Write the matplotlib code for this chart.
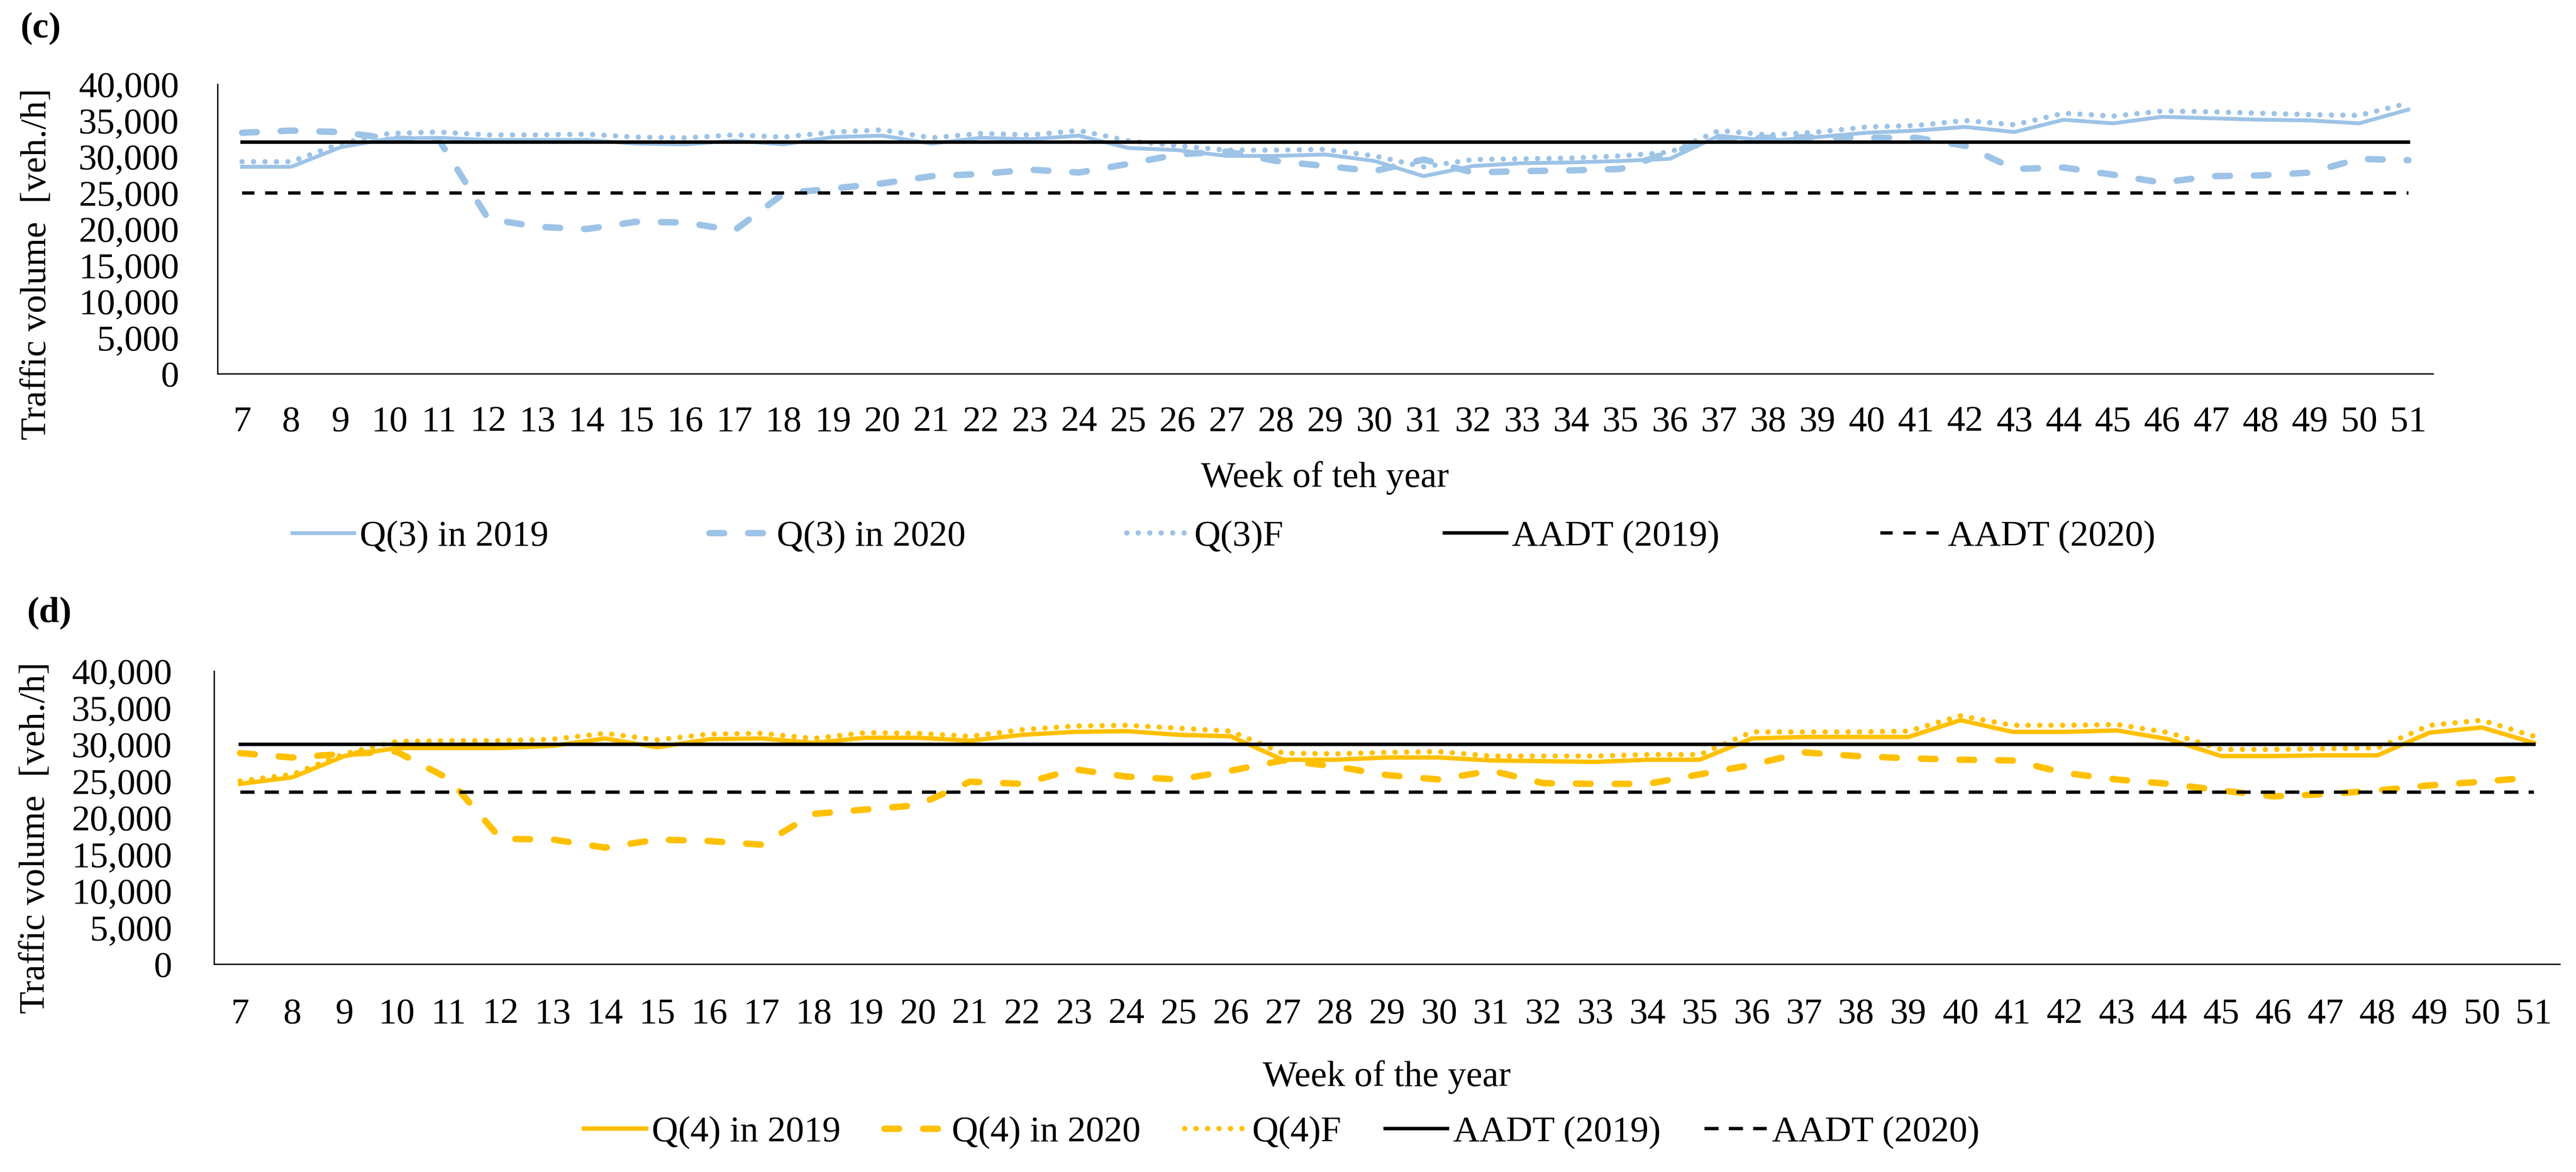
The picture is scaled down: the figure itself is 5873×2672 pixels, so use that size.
import matplotlib.pyplot as plt
from matplotlib.ticker import FuncFormatter

plt.rcParams['font.family'] = ['Liberation Serif', 'DejaVu Serif']

weeks = list(range(7, 52))

# panel (c) values [veh./h]
q3_2019 = [28600, 28600, 31300, 32500, 32600, 32300, 32300, 32300, 31800, 31700,
           32200, 31700, 32700, 32900, 31800, 32600, 32400, 32900, 31200, 30900,
           30100, 30100, 30300, 29400, 27300, 28700, 29100, 29200, 29400, 29700,
           32900, 32200, 32700, 33300, 33600, 34100, 33400, 35100, 34600, 35500,
           35300, 35100, 35000, 34600, 36500]
q3_2020 = [33300, 33600, 33400, 32500, 32300, 21400, 20300, 20000, 21000, 20900,
           19800, 24900, 25600, 26300, 27300, 27600, 28200, 27800, 29000, 30300,
           30700, 29400, 28700, 28000, 29600, 27800, 28000, 28100, 28300, 30600,
           32400, 32600, 32700, 32600, 32600, 31500, 28300, 28500, 27500, 26400,
           27300, 27400, 27800, 29700, 29500]
q3_f = [29300, 29300, 31800, 33200, 33400, 33000, 33000, 33100, 32700, 32600,
        33000, 32700, 33400, 33700, 32600, 33200, 33000, 33600, 32200, 31500,
        30900, 30900, 31000, 30100, 28600, 29600, 29700, 29800, 30100, 30600,
        33600, 33000, 33400, 34100, 34300, 35000, 34400, 36000, 35600, 36300,
        36200, 36000, 35800, 35700, 37400]
aadt_c = [32000, 25000]

# panel (d)
q4_2019 = [24600, 25500, 28400, 29500, 29500, 29500, 29800, 30800, 29600, 30700,
           30800, 30200, 30900, 30900, 30500, 31300, 31700, 31800, 31300, 31100,
           27900, 27900, 28200, 28200, 27800, 27700, 27600, 27900, 27900, 30800,
           31000, 31000, 31000, 33300, 31700, 31700, 31900, 30700, 28400, 28400,
           28500, 28500, 31600, 32300, 30200]
q4_2020 = [28800, 28200, 28700, 29000, 25300, 17100, 17000, 15900, 17000, 16800,
           16300, 20500, 21100, 21700, 24900, 24600, 26600, 25600, 25200, 26400,
           27800, 27000, 25800, 25200, 26400, 24700, 24600, 24600, 25900, 27200,
           28900, 28400, 28100, 27900, 27800, 26100, 25200, 24600, 23700, 22900,
           23200, 23700, 24400, 24900, 25500]
q4_f = [25000, 25900, 28700, 30400, 30500, 30500, 30700, 31500, 30600, 31400,
        31500, 30800, 31600, 31500, 31100, 32000, 32500, 32600, 32200, 31800,
        28800, 28700, 28900, 29000, 28400, 28400, 28400, 28600, 28600, 31700,
        31700, 31700, 31800, 33900, 32600, 32600, 32700, 31600, 29300, 29300,
        29400, 29500, 32600, 33300, 31100]
aadt_d = [30000, 23500]

blue = '#9DC3E6'
yellow = '#FFC000'
fs = 20

fig = plt.figure(figsize=(5874 / 300, 2672 / 300), dpi=300)
ax1 = fig.add_axes([0.0844, 0.6811, 0.8599, 0.2470])
ax2 = fig.add_axes([0.0831, 0.1774, 0.9105, 0.2500])


def draw(ax, col, s2019, s2020, sf, aadt, name, solid_lw, aadt_dash):
    n = len(weeks)
    ax.plot(weeks, s2019, color=col, lw=solid_lw, label=name + ' in 2019')
    ax.plot(weeks, s2020, color=col, lw=3.5, linestyle=(0, (2.3, 3.75)),
            dash_capstyle='round', label=name + ' in 2020')
    ax.plot(weeks, sf, color=col, lw=2.9, linestyle=(0, (0.01, 2.15)),
            dash_capstyle='round', label=name + 'F')
    ax.plot(weeks, [aadt[0]] * n, color='black', lw=1.9, label='AADT (2019)')
    ax.plot(weeks, [aadt[1]] * n, color='black', lw=1.8,
            linestyle=(0, aadt_dash), label='AADT (2020)')
    ax.set_xlim(weeks[0] - 0.5, weeks[-1] + 0.5)
    ax.set_ylim(0, 40000)
    ax.set_yticks(range(0, 40001, 5000))
    ax.set_xticks(weeks)
    ax.yaxis.set_major_formatter(FuncFormatter(lambda v, p: f'{int(v):,}'))
    for s in ['top', 'right']:
        ax.spines[s].set_visible(False)
    for s in ['left', 'bottom']:
        ax.spines[s].set_linewidth(0.75)
    ax.tick_params(length=0, labelsize=fs)


draw(ax1, blue, q3_2019, q3_2020, q3_f, aadt_c, 'Q(3)', 2.1, (3.75, 3.25))
draw(ax2, yellow, q4_2019, q4_2020, q4_f, aadt_d, 'Q(4)', 2.4, (4.3, 3.1))

ax1.tick_params(axis='y', pad=21)
ax1.tick_params(axis='x', pad=17.5)
ax2.tick_params(axis='y', pad=23)
ax2.tick_params(axis='x', pad=18.5)

ax1.set_ylabel('Traffic volume  [veh./h]', fontsize=fs)
ax1.yaxis.set_label_coords(-0.074, 0.379)
ax2.set_ylabel('Traffic volume  [veh./h]', fontsize=fs)
ax2.yaxis.set_label_coords(-0.069, 0.43)

fig.text(0.5143, 1 - 1089 / 2672, 'Week of teh year', fontsize=fs,
         ha='center', va='center')
fig.text(0.5383, 1 - 2456 / 2672, 'Week of the year', fontsize=fs,
         ha='center', va='center')

fig.text(93 / 5874, 1 - 66 / 2672, '(c)', fontsize=fs, weight='bold',
         ha='center', va='center')
fig.text(112 / 5874, 1 - 1399 / 2672, '(d)', fontsize=fs, weight='bold',
         ha='center', va='center')

h1, l1 = ax1.get_legend_handles_labels()
fig.legend(h1, l1, loc='center', bbox_to_anchor=(0.475, 0.5419), ncol=5,
           frameon=False, fontsize=fs, handlelength=1.7, handletextpad=0.15,
           columnspacing=4.4)
h2, l2 = ax2.get_legend_handles_labels()
fig.legend(h2, l2, loc='center', bbox_to_anchor=(0.4975, 0.0337), ncol=5,
           frameon=False, fontsize=fs, handlelength=1.7, handletextpad=0.15,
           columnspacing=1.2)

fig.savefig('out.png', dpi=300)
